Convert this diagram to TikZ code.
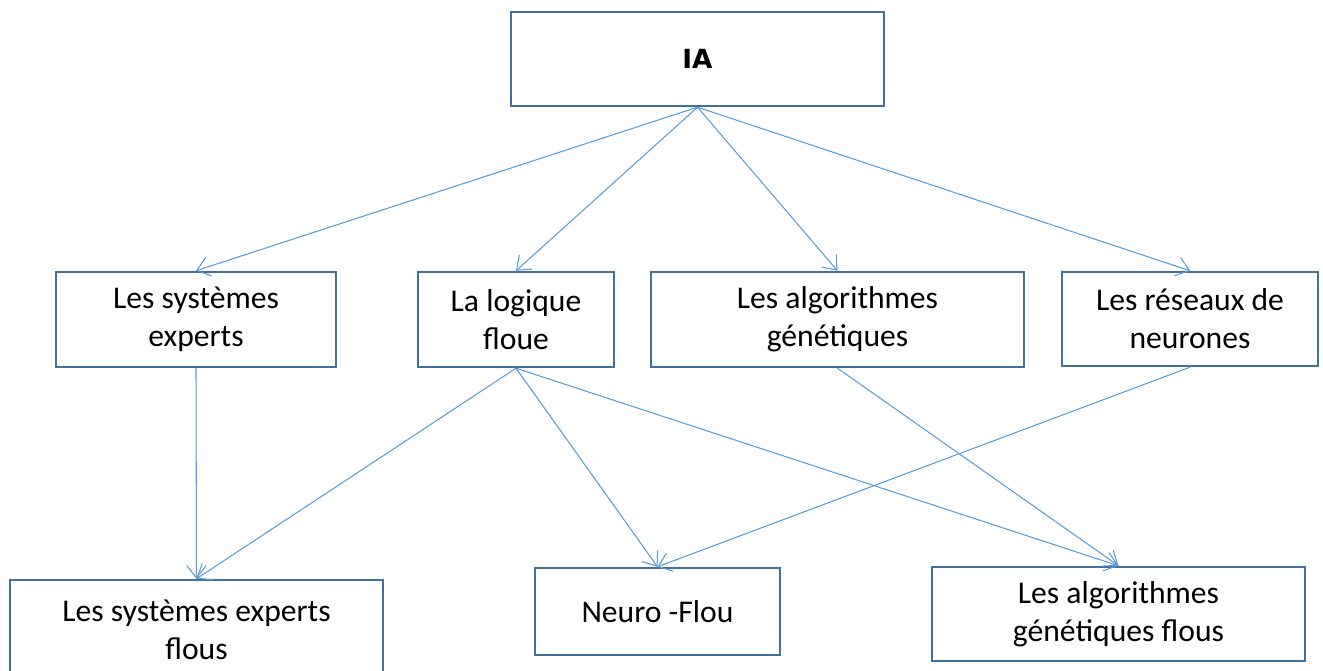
\documentclass[tikz,border=0pt]{standalone}
\usepackage{fontspec}
\setmainfont{Carlito}
\newfontfamily\iafont{DejaVu Sans}
\usetikzlibrary{arrows.meta}

\definecolor{bordbleu}{RGB}{65,113,156}
\definecolor{flechebleu}{RGB}{91,155,213}

\begin{document}
\begin{tikzpicture}[
    x=0.02cm, y=-0.02cm,
    boite/.style={draw=bordbleu, line width=1.4pt, fill=white, align=center,
      inner sep=0pt, font=\fontsize{18}{21.5}\selectfont},
    fleche/.style={draw=flechebleu, line width=0.6pt,
      -{Straight Barb[length=7pt, width=11pt, line width=0.6pt]}},
  ]
    \useasboundingbox (0,0) rectangle (1323,671);
    \clip (0,0) rectangle (1323,671);

    %% --- racine ---
    \node[boite, minimum width=7.46cm, minimum height=1.88cm,
      font=\iafont\bfseries\fontsize{15}{18}\selectfont] (ia) at (697.5,59) {IA};

    %% --- niveau 1 ---
    \node[boite, minimum width=5.6cm, minimum height=1.9cm] (exp) at (196,319.5)
      {Les systèmes\\experts};
    \node[boite, minimum width=3.92cm, minimum height=1.9cm] (logique) at (516,319.5)
      {La logique\\floue};
    \node[boite, minimum width=7.46cm, minimum height=1.9cm] (algo) at (837.5,319.5)
      {Les algorithmes\\génétiques};
    \node[boite, minimum width=5.12cm, minimum height=1.88cm] (reseaux) at (1190,319)
      {Les réseaux de\\neurones};

    %% --- niveau 2 ---
    \node[boite, minimum width=7.46cm, minimum height=2.0cm] (sef) at (196.5,630)
      {Les systèmes experts\\flous};
    \node[boite, minimum width=4.9cm, minimum height=1.74cm] (nf) at (657.5,611.5)
      {Neuro -Flou};
    \node[boite, minimum width=7.46cm, minimum height=1.88cm] (agf) at (1118.5,614)
      {Les algorithmes\\génétiques flous};

    %% --- liens ---
    \draw[fleche] (ia.south) -- (exp.north);
    \draw[fleche] (ia.south) -- (logique.north);
    \draw[fleche] (ia.south) -- (algo.north);
    \draw[fleche] (ia.south) -- (reseaux.north);

    \draw[fleche] (exp.south) -- (sef.north);
    \draw[fleche] (logique.south) -- (sef.north);
    \draw[fleche] (logique.south) -- (nf.north);
    \draw[fleche] (logique.south) -- (agf.north);
    \draw[fleche] (algo.south) -- (agf.north);
    \draw[fleche] (reseaux.south) -- (nf.north);

\end{tikzpicture}
\end{document}
